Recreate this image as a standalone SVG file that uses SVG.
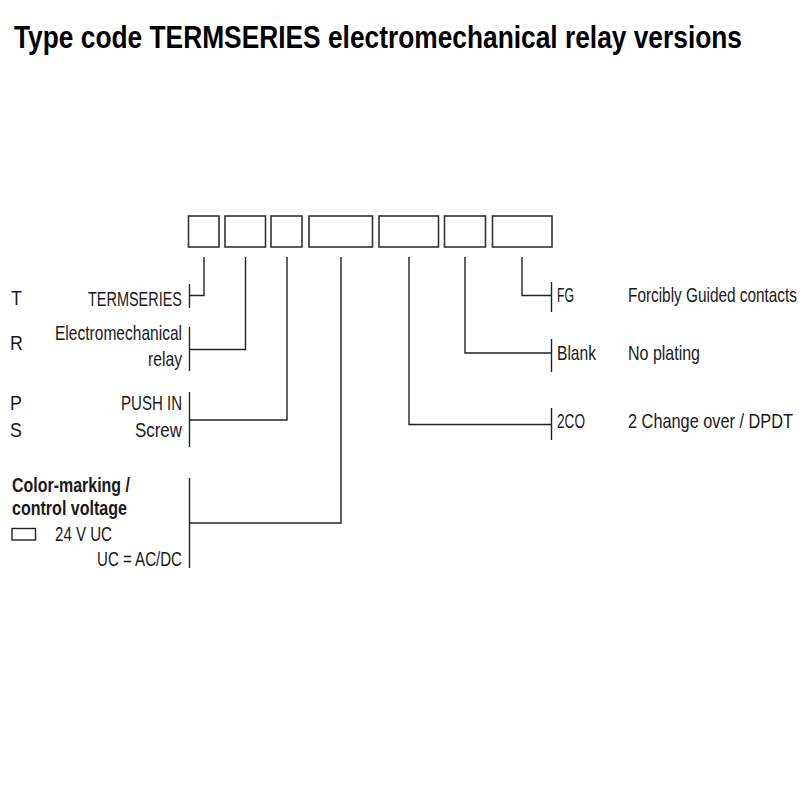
<svg xmlns="http://www.w3.org/2000/svg" width="800" height="800" viewBox="0 0 800 800">
<style>
text{font-family:"Liberation Sans",Arial,sans-serif;font-size:15.5px;fill:#1a1a1a}
.title{font-size:25.5px;font-weight:bold;fill:#000}
.b{font-weight:bold}
.box{fill:#fff;stroke:#333;stroke-width:1.6}
.ln{fill:none;stroke:#222;stroke-width:1.4}
</style>
<rect width="800" height="800" fill="#fff"/>
<text class="title" transform="translate(14,48) scale(1,1.22)" textLength="728" lengthAdjust="spacingAndGlyphs">Type code TERMSERIES electromechanical relay versions</text>
<g id="code-boxes">
<rect class="box" x="188.5" y="216" width="30.5" height="31"/>
<rect class="box" x="225" y="216" width="40.5" height="31"/>
<rect class="box" x="271" y="216" width="31" height="31"/>
<rect class="box" x="309" y="216" width="63.5" height="31"/>
<rect class="box" x="379" y="216" width="59.5" height="31"/>
<rect class="box" x="444.5" y="216" width="41" height="31"/>
<rect class="box" x="492.5" y="216" width="59.5" height="31"/>
</g>
<g id="connectors">
<path class="ln" d="M204 257V295.5H189.5M189.5 284V308"/>
<path class="ln" d="M245.5 257V349.5H189.5M189.5 327V371"/>
<path class="ln" d="M287 257V420H189.5M189.5 392V447"/>
<path class="ln" d="M341 257V523H189.5M189.5 478V568"/>
<path class="ln" d="M409 257V424.5H551.5M551.5 408V440"/>
<path class="ln" d="M465 257V353H551.5M551.5 339V372"/>
<path class="ln" d="M522 257V295.5H551.5M551.5 282V312"/>
</g>
<g id="series">
<text transform="translate(11,305) scale(1.15,1.32)">T</text>
<text transform="translate(88,305.5) scale(1,1.32)" textLength="94" lengthAdjust="spacingAndGlyphs">TERMSERIES</text>
</g>
<g id="type">
<text transform="translate(10,350) scale(1.15,1.32)">R</text>
<text transform="translate(55,340) scale(1,1.32)" textLength="127" lengthAdjust="spacingAndGlyphs">Electromechanical</text>
<text transform="translate(148,366) scale(1,1.32)" textLength="34" lengthAdjust="spacingAndGlyphs">relay</text>
</g>
<g id="connection">
<text transform="translate(10,410) scale(1.15,1.32)">P</text>
<text transform="translate(10,437) scale(1.15,1.32)">S</text>
<text transform="translate(121,410) scale(1,1.32)" textLength="61" lengthAdjust="spacingAndGlyphs">PUSH IN</text>
<text transform="translate(135,437) scale(1,1.32)" textLength="47" lengthAdjust="spacingAndGlyphs">Screw</text>
</g>
<g id="voltage">
<text class="b" transform="translate(12,492) scale(1,1.32)" textLength="118" lengthAdjust="spacingAndGlyphs">Color-marking /</text>
<text class="b" transform="translate(12,515) scale(1,1.32)" textLength="115" lengthAdjust="spacingAndGlyphs">control voltage</text>
<rect x="12" y="528.5" width="23.5" height="11.5" fill="none" stroke="#222" stroke-width="1.4"/>
<text transform="translate(55,541) scale(1,1.32)" textLength="57" lengthAdjust="spacingAndGlyphs">24 V UC</text>
<text transform="translate(97,566) scale(1,1.32)" textLength="85" lengthAdjust="spacingAndGlyphs">UC = AC/DC</text>
</g>
<g id="contacts">
<text transform="translate(557,428) scale(1,1.32)" textLength="28" lengthAdjust="spacingAndGlyphs">2CO</text>
<text transform="translate(628,428) scale(1,1.32)" textLength="165" lengthAdjust="spacingAndGlyphs">2 Change over / DPDT</text>
</g>
<g id="plating">
<text transform="translate(557,360) scale(1,1.32)" textLength="39" lengthAdjust="spacingAndGlyphs">Blank</text>
<text transform="translate(628,360) scale(1,1.32)" textLength="72" lengthAdjust="spacingAndGlyphs">No plating</text>
</g>
<g id="guided">
<text transform="translate(557,302) scale(1,1.32)" textLength="17" lengthAdjust="spacingAndGlyphs">FG</text>
<text transform="translate(628,302) scale(1,1.32)" textLength="169" lengthAdjust="spacingAndGlyphs">Forcibly Guided contacts</text>
</g>
</svg>
